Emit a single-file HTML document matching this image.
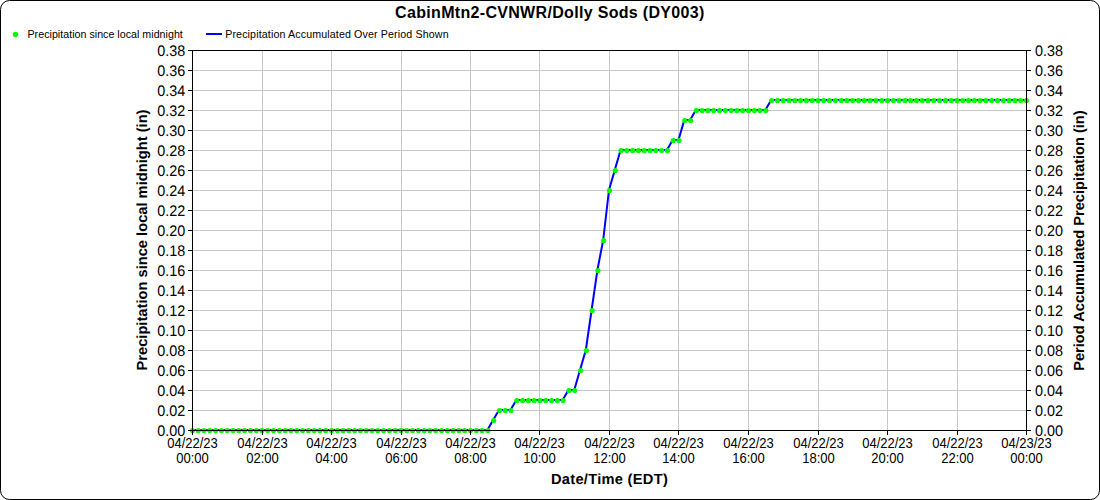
<!DOCTYPE html>
<html><head><meta charset="utf-8"><title>CabinMtn2-CVNWR/Dolly Sods (DY003)</title>
<style>html,body{margin:0;padding:0;background:#fff;width:1100px;height:500px;overflow:hidden}body{position:relative;font-family:"Liberation Sans", sans-serif}</style>
</head><body>
<svg width="1100" height="500" viewBox="0 0 1100 500" style="position:absolute;left:0;top:0"><rect x="0.5" y="0.5" width="1099" height="499" rx="9" ry="9" fill="#fff" stroke="#000" stroke-width="1"/><text x="395.1" y="18" textLength="309.2" lengthAdjust="spacing" font-family='"Liberation Sans", sans-serif' font-weight="bold" font-size="16" fill="#000">CabinMtn2-CVNWR/Dolly Sods (DY003)</text><circle cx="15.5" cy="34.5" r="2.7" fill="#00ff00"/><text x="27.5" y="38" textLength="155.3" lengthAdjust="spacing" font-family='"Liberation Sans", sans-serif' font-size="10.67" fill="#000">Precipitation since local midnight</text><rect x="206" y="33" width="16" height="2" fill="#0000ff"/><text x="225.2" y="38" textLength="223.4" lengthAdjust="spacing" font-family='"Liberation Sans", sans-serif' font-size="10.67" fill="#000">Precipitation Accumulated Over Period Shown</text><path d="M193 410.5H1026 M193 390.5H1026 M193 370.5H1026 M193 350.5H1026 M193 330.5H1026 M193 310.5H1026 M193 290.5H1026 M193 270.5H1026 M193 250.5H1026 M193 230.5H1026 M193 210.5H1026 M193 190.5H1026 M193 170.5H1026 M193 150.5H1026 M193 130.5H1026 M193 110.5H1026 M193 90.5H1026 M193 70.5H1026 M262.5 51V430 M331.5 51V430 M401.5 51V430 M470.5 51V430 M539.5 51V430 M609.5 51V430 M678.5 51V430 M748.5 51V430 M818.5 51V430 M887.5 51V430 M957.5 51V430" stroke="#c8c8c8" stroke-width="1" fill="none" shape-rendering="crispEdges"/><polyline points="192.00,430.00 197.79,430.00 203.58,430.00 209.38,430.00 215.17,430.00 220.96,430.00 226.75,430.00 232.54,430.00 238.33,430.00 244.12,430.00 249.92,430.00 255.71,430.00 261.50,430.00 267.29,430.00 273.08,430.00 278.88,430.00 284.67,430.00 290.46,430.00 296.25,430.00 302.04,430.00 307.83,430.00 313.62,430.00 319.42,430.00 325.21,430.00 331.00,430.00 336.79,430.00 342.58,430.00 348.38,430.00 354.17,430.00 359.96,430.00 365.75,430.00 371.54,430.00 377.33,430.00 383.12,430.00 388.92,430.00 394.71,430.00 400.50,430.00 406.29,430.00 412.08,430.00 417.88,430.00 423.67,430.00 429.46,430.00 435.25,430.00 441.04,430.00 446.83,430.00 452.62,430.00 458.42,430.00 464.21,430.00 470.00,430.00 475.79,430.00 481.58,430.00 487.38,430.00 493.17,420.00 498.96,410.00 504.75,410.00 510.54,410.00 516.33,400.00 522.12,400.00 527.92,400.00 533.71,400.00 539.50,400.00 545.29,400.00 551.08,400.00 556.88,400.00 562.67,400.00 568.46,390.00 574.25,390.00 580.04,370.00 585.83,350.00 591.62,310.00 597.42,270.00 603.21,240.00 609.00,190.00 614.79,170.00 620.58,150.00 626.38,150.00 632.17,150.00 637.96,150.00 643.75,150.00 649.54,150.00 655.33,150.00 661.12,150.00 666.92,150.00 672.71,140.00 678.50,140.00 684.29,120.00 690.08,120.00 695.88,110.00 701.67,110.00 707.46,110.00 713.25,110.00 719.04,110.00 724.83,110.00 730.62,110.00 736.42,110.00 742.21,110.00 748.00,110.00 753.79,110.00 759.58,110.00 765.38,110.00 771.17,100.00 776.96,100.00 782.75,100.00 788.54,100.00 794.33,100.00 800.12,100.00 805.92,100.00 811.71,100.00 817.50,100.00 823.29,100.00 829.08,100.00 834.88,100.00 840.67,100.00 846.46,100.00 852.25,100.00 858.04,100.00 863.83,100.00 869.62,100.00 875.42,100.00 881.21,100.00 887.00,100.00 892.79,100.00 898.58,100.00 904.38,100.00 910.17,100.00 915.96,100.00 921.75,100.00 927.54,100.00 933.33,100.00 939.12,100.00 944.92,100.00 950.71,100.00 956.50,100.00 962.29,100.00 968.08,100.00 973.88,100.00 979.67,100.00 985.46,100.00 991.25,100.00 997.04,100.00 1002.83,100.00 1008.62,100.00 1014.42,100.00 1020.21,100.00 1026.00,100.00" fill="none" stroke="#0000ff" stroke-width="2" stroke-linejoin="round"/><path d="M189.90 430.50a2.6 2.6 0 1 0 5.2 0a2.6 2.6 0 1 0 -5.2 0M195.69 430.50a2.6 2.6 0 1 0 5.2 0a2.6 2.6 0 1 0 -5.2 0M201.48 430.50a2.6 2.6 0 1 0 5.2 0a2.6 2.6 0 1 0 -5.2 0M207.28 430.50a2.6 2.6 0 1 0 5.2 0a2.6 2.6 0 1 0 -5.2 0M213.07 430.50a2.6 2.6 0 1 0 5.2 0a2.6 2.6 0 1 0 -5.2 0M218.86 430.50a2.6 2.6 0 1 0 5.2 0a2.6 2.6 0 1 0 -5.2 0M224.65 430.50a2.6 2.6 0 1 0 5.2 0a2.6 2.6 0 1 0 -5.2 0M230.44 430.50a2.6 2.6 0 1 0 5.2 0a2.6 2.6 0 1 0 -5.2 0M236.23 430.50a2.6 2.6 0 1 0 5.2 0a2.6 2.6 0 1 0 -5.2 0M242.03 430.50a2.6 2.6 0 1 0 5.2 0a2.6 2.6 0 1 0 -5.2 0M247.82 430.50a2.6 2.6 0 1 0 5.2 0a2.6 2.6 0 1 0 -5.2 0M253.61 430.50a2.6 2.6 0 1 0 5.2 0a2.6 2.6 0 1 0 -5.2 0M259.40 430.50a2.6 2.6 0 1 0 5.2 0a2.6 2.6 0 1 0 -5.2 0M265.19 430.50a2.6 2.6 0 1 0 5.2 0a2.6 2.6 0 1 0 -5.2 0M270.98 430.50a2.6 2.6 0 1 0 5.2 0a2.6 2.6 0 1 0 -5.2 0M276.77 430.50a2.6 2.6 0 1 0 5.2 0a2.6 2.6 0 1 0 -5.2 0M282.57 430.50a2.6 2.6 0 1 0 5.2 0a2.6 2.6 0 1 0 -5.2 0M288.36 430.50a2.6 2.6 0 1 0 5.2 0a2.6 2.6 0 1 0 -5.2 0M294.15 430.50a2.6 2.6 0 1 0 5.2 0a2.6 2.6 0 1 0 -5.2 0M299.94 430.50a2.6 2.6 0 1 0 5.2 0a2.6 2.6 0 1 0 -5.2 0M305.73 430.50a2.6 2.6 0 1 0 5.2 0a2.6 2.6 0 1 0 -5.2 0M311.52 430.50a2.6 2.6 0 1 0 5.2 0a2.6 2.6 0 1 0 -5.2 0M317.32 430.50a2.6 2.6 0 1 0 5.2 0a2.6 2.6 0 1 0 -5.2 0M323.11 430.50a2.6 2.6 0 1 0 5.2 0a2.6 2.6 0 1 0 -5.2 0M328.90 430.50a2.6 2.6 0 1 0 5.2 0a2.6 2.6 0 1 0 -5.2 0M334.69 430.50a2.6 2.6 0 1 0 5.2 0a2.6 2.6 0 1 0 -5.2 0M340.48 430.50a2.6 2.6 0 1 0 5.2 0a2.6 2.6 0 1 0 -5.2 0M346.27 430.50a2.6 2.6 0 1 0 5.2 0a2.6 2.6 0 1 0 -5.2 0M352.07 430.50a2.6 2.6 0 1 0 5.2 0a2.6 2.6 0 1 0 -5.2 0M357.86 430.50a2.6 2.6 0 1 0 5.2 0a2.6 2.6 0 1 0 -5.2 0M363.65 430.50a2.6 2.6 0 1 0 5.2 0a2.6 2.6 0 1 0 -5.2 0M369.44 430.50a2.6 2.6 0 1 0 5.2 0a2.6 2.6 0 1 0 -5.2 0M375.23 430.50a2.6 2.6 0 1 0 5.2 0a2.6 2.6 0 1 0 -5.2 0M381.02 430.50a2.6 2.6 0 1 0 5.2 0a2.6 2.6 0 1 0 -5.2 0M386.82 430.50a2.6 2.6 0 1 0 5.2 0a2.6 2.6 0 1 0 -5.2 0M392.61 430.50a2.6 2.6 0 1 0 5.2 0a2.6 2.6 0 1 0 -5.2 0M398.40 430.50a2.6 2.6 0 1 0 5.2 0a2.6 2.6 0 1 0 -5.2 0M404.19 430.50a2.6 2.6 0 1 0 5.2 0a2.6 2.6 0 1 0 -5.2 0M409.98 430.50a2.6 2.6 0 1 0 5.2 0a2.6 2.6 0 1 0 -5.2 0M415.77 430.50a2.6 2.6 0 1 0 5.2 0a2.6 2.6 0 1 0 -5.2 0M421.57 430.50a2.6 2.6 0 1 0 5.2 0a2.6 2.6 0 1 0 -5.2 0M427.36 430.50a2.6 2.6 0 1 0 5.2 0a2.6 2.6 0 1 0 -5.2 0M433.15 430.50a2.6 2.6 0 1 0 5.2 0a2.6 2.6 0 1 0 -5.2 0M438.94 430.50a2.6 2.6 0 1 0 5.2 0a2.6 2.6 0 1 0 -5.2 0M444.73 430.50a2.6 2.6 0 1 0 5.2 0a2.6 2.6 0 1 0 -5.2 0M450.52 430.50a2.6 2.6 0 1 0 5.2 0a2.6 2.6 0 1 0 -5.2 0M456.32 430.50a2.6 2.6 0 1 0 5.2 0a2.6 2.6 0 1 0 -5.2 0M462.11 430.50a2.6 2.6 0 1 0 5.2 0a2.6 2.6 0 1 0 -5.2 0M467.90 430.50a2.6 2.6 0 1 0 5.2 0a2.6 2.6 0 1 0 -5.2 0M473.69 430.50a2.6 2.6 0 1 0 5.2 0a2.6 2.6 0 1 0 -5.2 0M479.48 430.50a2.6 2.6 0 1 0 5.2 0a2.6 2.6 0 1 0 -5.2 0M485.27 430.50a2.6 2.6 0 1 0 5.2 0a2.6 2.6 0 1 0 -5.2 0M491.07 420.50a2.6 2.6 0 1 0 5.2 0a2.6 2.6 0 1 0 -5.2 0M496.86 410.50a2.6 2.6 0 1 0 5.2 0a2.6 2.6 0 1 0 -5.2 0M502.65 410.50a2.6 2.6 0 1 0 5.2 0a2.6 2.6 0 1 0 -5.2 0M508.44 410.50a2.6 2.6 0 1 0 5.2 0a2.6 2.6 0 1 0 -5.2 0M514.23 400.50a2.6 2.6 0 1 0 5.2 0a2.6 2.6 0 1 0 -5.2 0M520.02 400.50a2.6 2.6 0 1 0 5.2 0a2.6 2.6 0 1 0 -5.2 0M525.82 400.50a2.6 2.6 0 1 0 5.2 0a2.6 2.6 0 1 0 -5.2 0M531.61 400.50a2.6 2.6 0 1 0 5.2 0a2.6 2.6 0 1 0 -5.2 0M537.40 400.50a2.6 2.6 0 1 0 5.2 0a2.6 2.6 0 1 0 -5.2 0M543.19 400.50a2.6 2.6 0 1 0 5.2 0a2.6 2.6 0 1 0 -5.2 0M548.98 400.50a2.6 2.6 0 1 0 5.2 0a2.6 2.6 0 1 0 -5.2 0M554.77 400.50a2.6 2.6 0 1 0 5.2 0a2.6 2.6 0 1 0 -5.2 0M560.57 400.50a2.6 2.6 0 1 0 5.2 0a2.6 2.6 0 1 0 -5.2 0M566.36 390.50a2.6 2.6 0 1 0 5.2 0a2.6 2.6 0 1 0 -5.2 0M572.15 390.50a2.6 2.6 0 1 0 5.2 0a2.6 2.6 0 1 0 -5.2 0M577.94 370.50a2.6 2.6 0 1 0 5.2 0a2.6 2.6 0 1 0 -5.2 0M583.73 350.50a2.6 2.6 0 1 0 5.2 0a2.6 2.6 0 1 0 -5.2 0M589.52 310.50a2.6 2.6 0 1 0 5.2 0a2.6 2.6 0 1 0 -5.2 0M595.32 270.50a2.6 2.6 0 1 0 5.2 0a2.6 2.6 0 1 0 -5.2 0M601.11 240.50a2.6 2.6 0 1 0 5.2 0a2.6 2.6 0 1 0 -5.2 0M606.90 190.50a2.6 2.6 0 1 0 5.2 0a2.6 2.6 0 1 0 -5.2 0M612.69 170.50a2.6 2.6 0 1 0 5.2 0a2.6 2.6 0 1 0 -5.2 0M618.48 150.50a2.6 2.6 0 1 0 5.2 0a2.6 2.6 0 1 0 -5.2 0M624.27 150.50a2.6 2.6 0 1 0 5.2 0a2.6 2.6 0 1 0 -5.2 0M630.07 150.50a2.6 2.6 0 1 0 5.2 0a2.6 2.6 0 1 0 -5.2 0M635.86 150.50a2.6 2.6 0 1 0 5.2 0a2.6 2.6 0 1 0 -5.2 0M641.65 150.50a2.6 2.6 0 1 0 5.2 0a2.6 2.6 0 1 0 -5.2 0M647.44 150.50a2.6 2.6 0 1 0 5.2 0a2.6 2.6 0 1 0 -5.2 0M653.23 150.50a2.6 2.6 0 1 0 5.2 0a2.6 2.6 0 1 0 -5.2 0M659.02 150.50a2.6 2.6 0 1 0 5.2 0a2.6 2.6 0 1 0 -5.2 0M664.82 150.50a2.6 2.6 0 1 0 5.2 0a2.6 2.6 0 1 0 -5.2 0M670.61 140.50a2.6 2.6 0 1 0 5.2 0a2.6 2.6 0 1 0 -5.2 0M676.40 140.50a2.6 2.6 0 1 0 5.2 0a2.6 2.6 0 1 0 -5.2 0M682.19 120.50a2.6 2.6 0 1 0 5.2 0a2.6 2.6 0 1 0 -5.2 0M687.98 120.50a2.6 2.6 0 1 0 5.2 0a2.6 2.6 0 1 0 -5.2 0M693.77 110.50a2.6 2.6 0 1 0 5.2 0a2.6 2.6 0 1 0 -5.2 0M699.57 110.50a2.6 2.6 0 1 0 5.2 0a2.6 2.6 0 1 0 -5.2 0M705.36 110.50a2.6 2.6 0 1 0 5.2 0a2.6 2.6 0 1 0 -5.2 0M711.15 110.50a2.6 2.6 0 1 0 5.2 0a2.6 2.6 0 1 0 -5.2 0M716.94 110.50a2.6 2.6 0 1 0 5.2 0a2.6 2.6 0 1 0 -5.2 0M722.73 110.50a2.6 2.6 0 1 0 5.2 0a2.6 2.6 0 1 0 -5.2 0M728.52 110.50a2.6 2.6 0 1 0 5.2 0a2.6 2.6 0 1 0 -5.2 0M734.32 110.50a2.6 2.6 0 1 0 5.2 0a2.6 2.6 0 1 0 -5.2 0M740.11 110.50a2.6 2.6 0 1 0 5.2 0a2.6 2.6 0 1 0 -5.2 0M745.90 110.50a2.6 2.6 0 1 0 5.2 0a2.6 2.6 0 1 0 -5.2 0M751.69 110.50a2.6 2.6 0 1 0 5.2 0a2.6 2.6 0 1 0 -5.2 0M757.48 110.50a2.6 2.6 0 1 0 5.2 0a2.6 2.6 0 1 0 -5.2 0M763.27 110.50a2.6 2.6 0 1 0 5.2 0a2.6 2.6 0 1 0 -5.2 0M769.07 100.50a2.6 2.6 0 1 0 5.2 0a2.6 2.6 0 1 0 -5.2 0M774.86 100.50a2.6 2.6 0 1 0 5.2 0a2.6 2.6 0 1 0 -5.2 0M780.65 100.50a2.6 2.6 0 1 0 5.2 0a2.6 2.6 0 1 0 -5.2 0M786.44 100.50a2.6 2.6 0 1 0 5.2 0a2.6 2.6 0 1 0 -5.2 0M792.23 100.50a2.6 2.6 0 1 0 5.2 0a2.6 2.6 0 1 0 -5.2 0M798.02 100.50a2.6 2.6 0 1 0 5.2 0a2.6 2.6 0 1 0 -5.2 0M803.82 100.50a2.6 2.6 0 1 0 5.2 0a2.6 2.6 0 1 0 -5.2 0M809.61 100.50a2.6 2.6 0 1 0 5.2 0a2.6 2.6 0 1 0 -5.2 0M815.40 100.50a2.6 2.6 0 1 0 5.2 0a2.6 2.6 0 1 0 -5.2 0M821.19 100.50a2.6 2.6 0 1 0 5.2 0a2.6 2.6 0 1 0 -5.2 0M826.98 100.50a2.6 2.6 0 1 0 5.2 0a2.6 2.6 0 1 0 -5.2 0M832.77 100.50a2.6 2.6 0 1 0 5.2 0a2.6 2.6 0 1 0 -5.2 0M838.57 100.50a2.6 2.6 0 1 0 5.2 0a2.6 2.6 0 1 0 -5.2 0M844.36 100.50a2.6 2.6 0 1 0 5.2 0a2.6 2.6 0 1 0 -5.2 0M850.15 100.50a2.6 2.6 0 1 0 5.2 0a2.6 2.6 0 1 0 -5.2 0M855.94 100.50a2.6 2.6 0 1 0 5.2 0a2.6 2.6 0 1 0 -5.2 0M861.73 100.50a2.6 2.6 0 1 0 5.2 0a2.6 2.6 0 1 0 -5.2 0M867.52 100.50a2.6 2.6 0 1 0 5.2 0a2.6 2.6 0 1 0 -5.2 0M873.32 100.50a2.6 2.6 0 1 0 5.2 0a2.6 2.6 0 1 0 -5.2 0M879.11 100.50a2.6 2.6 0 1 0 5.2 0a2.6 2.6 0 1 0 -5.2 0M884.90 100.50a2.6 2.6 0 1 0 5.2 0a2.6 2.6 0 1 0 -5.2 0M890.69 100.50a2.6 2.6 0 1 0 5.2 0a2.6 2.6 0 1 0 -5.2 0M896.48 100.50a2.6 2.6 0 1 0 5.2 0a2.6 2.6 0 1 0 -5.2 0M902.27 100.50a2.6 2.6 0 1 0 5.2 0a2.6 2.6 0 1 0 -5.2 0M908.07 100.50a2.6 2.6 0 1 0 5.2 0a2.6 2.6 0 1 0 -5.2 0M913.86 100.50a2.6 2.6 0 1 0 5.2 0a2.6 2.6 0 1 0 -5.2 0M919.65 100.50a2.6 2.6 0 1 0 5.2 0a2.6 2.6 0 1 0 -5.2 0M925.44 100.50a2.6 2.6 0 1 0 5.2 0a2.6 2.6 0 1 0 -5.2 0M931.23 100.50a2.6 2.6 0 1 0 5.2 0a2.6 2.6 0 1 0 -5.2 0M937.02 100.50a2.6 2.6 0 1 0 5.2 0a2.6 2.6 0 1 0 -5.2 0M942.82 100.50a2.6 2.6 0 1 0 5.2 0a2.6 2.6 0 1 0 -5.2 0M948.61 100.50a2.6 2.6 0 1 0 5.2 0a2.6 2.6 0 1 0 -5.2 0M954.40 100.50a2.6 2.6 0 1 0 5.2 0a2.6 2.6 0 1 0 -5.2 0M960.19 100.50a2.6 2.6 0 1 0 5.2 0a2.6 2.6 0 1 0 -5.2 0M965.98 100.50a2.6 2.6 0 1 0 5.2 0a2.6 2.6 0 1 0 -5.2 0M971.77 100.50a2.6 2.6 0 1 0 5.2 0a2.6 2.6 0 1 0 -5.2 0M977.57 100.50a2.6 2.6 0 1 0 5.2 0a2.6 2.6 0 1 0 -5.2 0M983.36 100.50a2.6 2.6 0 1 0 5.2 0a2.6 2.6 0 1 0 -5.2 0M989.15 100.50a2.6 2.6 0 1 0 5.2 0a2.6 2.6 0 1 0 -5.2 0M994.94 100.50a2.6 2.6 0 1 0 5.2 0a2.6 2.6 0 1 0 -5.2 0M1000.73 100.50a2.6 2.6 0 1 0 5.2 0a2.6 2.6 0 1 0 -5.2 0M1006.52 100.50a2.6 2.6 0 1 0 5.2 0a2.6 2.6 0 1 0 -5.2 0M1012.32 100.50a2.6 2.6 0 1 0 5.2 0a2.6 2.6 0 1 0 -5.2 0M1018.11 100.50a2.6 2.6 0 1 0 5.2 0a2.6 2.6 0 1 0 -5.2 0M1023.90 100.50a2.6 2.6 0 1 0 5.2 0a2.6 2.6 0 1 0 -5.2 0" fill="#00ff00"/><path d="M192.5 50V431 M1026.5 50V431 M192 50.5H1027 M192 430.5H1027 M188 430.5H192 M1027 430.5H1031 M188 410.5H192 M1027 410.5H1031 M188 390.5H192 M1027 390.5H1031 M188 370.5H192 M1027 370.5H1031 M188 350.5H192 M1027 350.5H1031 M188 330.5H192 M1027 330.5H1031 M188 310.5H192 M1027 310.5H1031 M188 290.5H192 M1027 290.5H1031 M188 270.5H192 M1027 270.5H1031 M188 250.5H192 M1027 250.5H1031 M188 230.5H192 M1027 230.5H1031 M188 210.5H192 M1027 210.5H1031 M188 190.5H192 M1027 190.5H1031 M188 170.5H192 M1027 170.5H1031 M188 150.5H192 M1027 150.5H1031 M188 130.5H192 M1027 130.5H1031 M188 110.5H192 M1027 110.5H1031 M188 90.5H192 M1027 90.5H1031 M188 70.5H192 M1027 70.5H1031 M188 50.5H192 M1027 50.5H1031 M192.5 431V435 M262.5 431V435 M331.5 431V435 M401.5 431V435 M470.5 431V435 M539.5 431V435 M609.5 431V435 M678.5 431V435 M748.5 431V435 M818.5 431V435 M887.5 431V435 M957.5 431V435 M1026.5 431V435" stroke="#000" stroke-width="1" fill="none" shape-rendering="crispEdges"/><g font-family='"Liberation Sans", sans-serif' font-size="15.3" text-rendering="geometricPrecision" fill="#000"><text transform="translate(185.2,436) scale(0.94,1)" text-anchor="end">0.00</text><text transform="translate(1035.1,436) scale(0.94,1)">0.00</text><text transform="translate(185.2,416) scale(0.94,1)" text-anchor="end">0.02</text><text transform="translate(1035.1,416) scale(0.94,1)">0.02</text><text transform="translate(185.2,396) scale(0.94,1)" text-anchor="end">0.04</text><text transform="translate(1035.1,396) scale(0.94,1)">0.04</text><text transform="translate(185.2,376) scale(0.94,1)" text-anchor="end">0.06</text><text transform="translate(1035.1,376) scale(0.94,1)">0.06</text><text transform="translate(185.2,356) scale(0.94,1)" text-anchor="end">0.08</text><text transform="translate(1035.1,356) scale(0.94,1)">0.08</text><text transform="translate(185.2,336) scale(0.94,1)" text-anchor="end">0.10</text><text transform="translate(1035.1,336) scale(0.94,1)">0.10</text><text transform="translate(185.2,316) scale(0.94,1)" text-anchor="end">0.12</text><text transform="translate(1035.1,316) scale(0.94,1)">0.12</text><text transform="translate(185.2,296) scale(0.94,1)" text-anchor="end">0.14</text><text transform="translate(1035.1,296) scale(0.94,1)">0.14</text><text transform="translate(185.2,276) scale(0.94,1)" text-anchor="end">0.16</text><text transform="translate(1035.1,276) scale(0.94,1)">0.16</text><text transform="translate(185.2,256) scale(0.94,1)" text-anchor="end">0.18</text><text transform="translate(1035.1,256) scale(0.94,1)">0.18</text><text transform="translate(185.2,236) scale(0.94,1)" text-anchor="end">0.20</text><text transform="translate(1035.1,236) scale(0.94,1)">0.20</text><text transform="translate(185.2,216) scale(0.94,1)" text-anchor="end">0.22</text><text transform="translate(1035.1,216) scale(0.94,1)">0.22</text><text transform="translate(185.2,196) scale(0.94,1)" text-anchor="end">0.24</text><text transform="translate(1035.1,196) scale(0.94,1)">0.24</text><text transform="translate(185.2,176) scale(0.94,1)" text-anchor="end">0.26</text><text transform="translate(1035.1,176) scale(0.94,1)">0.26</text><text transform="translate(185.2,156) scale(0.94,1)" text-anchor="end">0.28</text><text transform="translate(1035.1,156) scale(0.94,1)">0.28</text><text transform="translate(185.2,136) scale(0.94,1)" text-anchor="end">0.30</text><text transform="translate(1035.1,136) scale(0.94,1)">0.30</text><text transform="translate(185.2,116) scale(0.94,1)" text-anchor="end">0.32</text><text transform="translate(1035.1,116) scale(0.94,1)">0.32</text><text transform="translate(185.2,96) scale(0.94,1)" text-anchor="end">0.34</text><text transform="translate(1035.1,96) scale(0.94,1)">0.34</text><text transform="translate(185.2,76) scale(0.94,1)" text-anchor="end">0.36</text><text transform="translate(1035.1,76) scale(0.94,1)">0.36</text><text transform="translate(185.2,56) scale(0.94,1)" text-anchor="end">0.38</text><text transform="translate(1035.1,56) scale(0.94,1)">0.38</text></g><g font-family='"Liberation Sans", sans-serif' font-size="14" fill="#000"><text transform="translate(192.5,447.8) scale(0.93,1)" text-anchor="middle">04/22/23</text><text transform="translate(192.5,462.6) scale(0.93,1)" text-anchor="middle">00:00</text><text transform="translate(262.5,447.8) scale(0.93,1)" text-anchor="middle">04/22/23</text><text transform="translate(262.5,462.6) scale(0.93,1)" text-anchor="middle">02:00</text><text transform="translate(331.5,447.8) scale(0.93,1)" text-anchor="middle">04/22/23</text><text transform="translate(331.5,462.6) scale(0.93,1)" text-anchor="middle">04:00</text><text transform="translate(401.5,447.8) scale(0.93,1)" text-anchor="middle">04/22/23</text><text transform="translate(401.5,462.6) scale(0.93,1)" text-anchor="middle">06:00</text><text transform="translate(470.5,447.8) scale(0.93,1)" text-anchor="middle">04/22/23</text><text transform="translate(470.5,462.6) scale(0.93,1)" text-anchor="middle">08:00</text><text transform="translate(539.5,447.8) scale(0.93,1)" text-anchor="middle">04/22/23</text><text transform="translate(539.5,462.6) scale(0.93,1)" text-anchor="middle">10:00</text><text transform="translate(609.5,447.8) scale(0.93,1)" text-anchor="middle">04/22/23</text><text transform="translate(609.5,462.6) scale(0.93,1)" text-anchor="middle">12:00</text><text transform="translate(678.5,447.8) scale(0.93,1)" text-anchor="middle">04/22/23</text><text transform="translate(678.5,462.6) scale(0.93,1)" text-anchor="middle">14:00</text><text transform="translate(748.5,447.8) scale(0.93,1)" text-anchor="middle">04/22/23</text><text transform="translate(748.5,462.6) scale(0.93,1)" text-anchor="middle">16:00</text><text transform="translate(818.5,447.8) scale(0.93,1)" text-anchor="middle">04/22/23</text><text transform="translate(818.5,462.6) scale(0.93,1)" text-anchor="middle">18:00</text><text transform="translate(887.5,447.8) scale(0.93,1)" text-anchor="middle">04/22/23</text><text transform="translate(887.5,462.6) scale(0.93,1)" text-anchor="middle">20:00</text><text transform="translate(957.5,447.8) scale(0.93,1)" text-anchor="middle">04/22/23</text><text transform="translate(957.5,462.6) scale(0.93,1)" text-anchor="middle">22:00</text><text transform="translate(1026.5,447.8) scale(0.93,1)" text-anchor="middle">04/23/23</text><text transform="translate(1026.5,462.6) scale(0.93,1)" text-anchor="middle">00:00</text></g><text x="551" y="484" textLength="116.8" lengthAdjust="spacing" font-family='"Liberation Sans", sans-serif' font-weight="bold" font-size="14.67" text-rendering="geometricPrecision" fill="#000">Date/Time (EDT)</text><text transform="translate(146.5,370.5) rotate(-90)" textLength="261" lengthAdjust="spacing" font-family='"Liberation Sans", sans-serif' font-weight="bold" font-size="14.67" text-rendering="geometricPrecision" fill="#000">Precipitation since local midnight (in)</text><text transform="translate(1083.5,370.8) rotate(-90)" textLength="260.5" lengthAdjust="spacing" font-family='"Liberation Sans", sans-serif' font-weight="bold" font-size="14.67" text-rendering="geometricPrecision" fill="#000">Period Accumulated Precipitation (in)</text></svg>
</body></html>
